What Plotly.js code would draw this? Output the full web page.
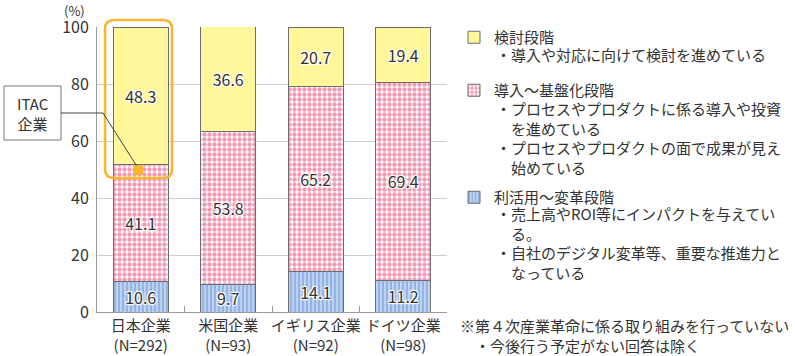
<!DOCTYPE html>
<html>
<head>
<meta charset="utf-8">
<script src="https://cdn.plot.ly/plotly-3.0.1.min.js"></script>
<style>html,body{margin:0;padding:0;background:#fff;}#chart{width:795px;height:356px;}</style>
</head>
<body>
<div id="chart"></div>
<script>
// Data
const categories = ["日本企業<br>(N=292)", "米国企業<br>(N=93)", "イギリス企業<br>(N=92)", "ドイツ企業<br>(N=98)"];
const kentou = [48.3, 36.6, 20.7, 19.4];      // 検討段階
const dounyu = [41.1, 53.8, 65.2, 69.4];      // 導入～基盤化段階
const rikatsuyou = [10.6, 9.7, 14.1, 11.2];   // 利活用～変革段階
const yTicks = [0, 20, 40, 60, 80, 100];

const seriesNames = ["検討段階", "導入～基盤化段階", "利活用～変革段階"];
// legend description lines ("\u3000" = continuation indent)
const descKentou = ["・導入や対応に向けて検討を進めている"];
const descDounyu = ["・プロセスやプロダクトに係る導入や投資", "\u3000を進めている",
                    "・プロセスやプロダクトの面で成果が見え", "\u3000始めている"];
const descRikatsu = ["・売上高やROI等にインパクトを与えてい", "\u3000る。",
                     "・自社のデジタル変革等、重要な推進力と", "\u3000なっている"];
const footnote = ["※第４次産業革命に係る取り組みを行っていない", "\u3000・今後行う予定がない回答は除く"];

const FONT = "'Noto Sans CJK JP', 'Noto Sans', sans-serif";
const TXT = "#333333";
const halo = "1px 1px 1px #fff, -1px -1px 1px #fff, 1px -1px 1px #fff, -1px 1px 1px #fff, 0 0 2px #fff";
const lblFont = {family: FONT, size: 16, color: TXT, shadow: halo};

function barTrace(vals, name, marker, legendId) {
  return {
    type: "bar", x: categories, y: vals, name: name,
    marker: marker, width: 0.63,
    text: vals.map(v => v.toFixed(1)), textposition: "inside",
    insidetextanchor: "middle", textangle: 0, constraintext: "none",
    textfont: lblFont, hoverinfo: "x+y+name", legend: legendId
  };
}

const traces = [
  barTrace(rikatsuyou, seriesNames[2], {
    color: "#B3CBEE", line: {color: "#6d6d6d", width: 1},
    pattern: {shape: "|", fgcolor: "#84A8DD", bgcolor: "#BDD2F1", size: 4, solidity: 0.35}
  }, "legend3"),
  barTrace(dounyu, seriesNames[1], {
    color: "#F6B5C8", line: {color: "#6d6d6d", width: 1},
    pattern: {shape: ".", fgcolor: "#F29AB4", bgcolor: "#FFFFFF", size: 5, solidity: 0.6}
  }, "legend2"),
  barTrace(kentou, seriesNames[0], {
    color: "#FFF79A", line: {color: "#6d6d6d", width: 1}
  }, "legend")
];

const X = px => (px - 97) / 350;
const Y = py => (312 - py) / 285;

function legendAt(topPx) {
  return {
    x: X(454), y: Y(topPx), xanchor: "left", yanchor: "top",
    font: {family: FONT, size: 15, color: TXT}, valign: "middle",
    bgcolor: "rgba(0,0,0,0)", borderwidth: 0, itemwidth: 30
  };
}

function roundRect(x0, y0, x1, y1, r) {
  const rx = r / 350, ry = r / 285;
  const a = X(x0), b = X(x1), t = Y(y0), u = Y(y1);
  return `M ${a + rx},${t} L ${b - rx},${t} Q ${b},${t} ${b},${t - ry} L ${b},${u + ry} Q ${b},${u} ${b - rx},${u} L ${a + rx},${u} Q ${a},${u} ${a},${u + ry} L ${a},${t - ry} Q ${a},${t} ${a + rx},${t} Z`;
}

function textBlock(lines, xPx, yMidPx) {
  return {xref: "paper", yref: "paper", x: X(xPx), y: Y(yMidPx), text: lines.join("<br>"), showarrow: false,
          font: {family: FONT, size: 15, color: TXT}, xanchor: "left", yanchor: "middle", align: "left"};
}

const annotations = [
  {xref: "paper", yref: "paper", x: X(32.5), y: Y(113), text: "ITAC<br>企業", showarrow: false,
   font: {family: FONT, size: 15, color: TXT}, xanchor: "center", yanchor: "middle"},
  {xref: "paper", yref: "paper", x: X(74), y: Y(10), text: "(%)", showarrow: false,
   font: {family: FONT, size: 13, color: TXT}, xanchor: "center", yanchor: "middle"},
  textBlock(descKentou, 494, 55),
  textBlock(descDounyu, 494, 137.5),
  textBlock(descRikatsu, 494, 243),
  textBlock(footnote, 458, 335.5)
];

const layout = {
  width: 795, height: 356,
  margin: {l: 97, r: 348, t: 27, b: 44},
  paper_bgcolor: "#fff", plot_bgcolor: "#fff",
  barmode: "stack",
  font: {family: FONT, color: TXT},
  showlegend: true,
  legend: legendAt(21),
  legend2: legendAt(74),
  legend3: legendAt(181),
  xaxis: {
    type: "category", range: [-0.5, 3.5], tickangle: 0, automargin: false,
    showline: true, linecolor: "#9a9a9a", linewidth: 1,
    ticks: "inside", tickson: "boundaries", ticklen: 6, tickcolor: "#9a9a9a",
    tickfont: {family: FONT, size: 15, color: TXT},
    showgrid: false, zeroline: false, fixedrange: true
  },
  yaxis: {
    range: [0, 100], tickvals: yTicks, ticktext: yTicks.map(String),
    showline: true, linecolor: "#9a9a9a", linewidth: 1,
    ticks: "", ticklabelstandoff: 4,
    tickfont: {family: FONT, size: 16, color: TXT},
    showgrid: true, gridcolor: "#cfcfcf", gridwidth: 1,
    zeroline: false, fixedrange: true
  },
  shapes: [
    {type: "path", xref: "paper", yref: "paper", path: roundRect(105, 20, 172, 178, 9),
     line: {color: "#F8B62B", width: 2.5}, fillcolor: "rgba(0,0,0,0)", layer: "above"},
    {type: "rect", xref: "paper", yref: "paper", x0: X(4), x1: X(61), y0: Y(140), y1: Y(86),
     line: {color: "#777", width: 1}, fillcolor: "#fff"},
    {type: "path", xref: "paper", yref: "paper",
     path: `M ${X(61)},${Y(113)} L ${X(103)},${Y(113)} L ${X(138)},${Y(168)}`,
     line: {color: "#444", width: 1}, layer: "above"},
    {type: "rect", xref: "paper", yref: "paper", x0: X(133.5), x1: X(143), y0: Y(175), y1: Y(165.5),
     line: {width: 0}, fillcolor: "#F8B62B", layer: "above"}
  ],
  annotations: annotations
};

Plotly.newPlot("chart", traces, layout, {displayModeBar: false, staticPlot: true});
</script>
</body>
</html>
